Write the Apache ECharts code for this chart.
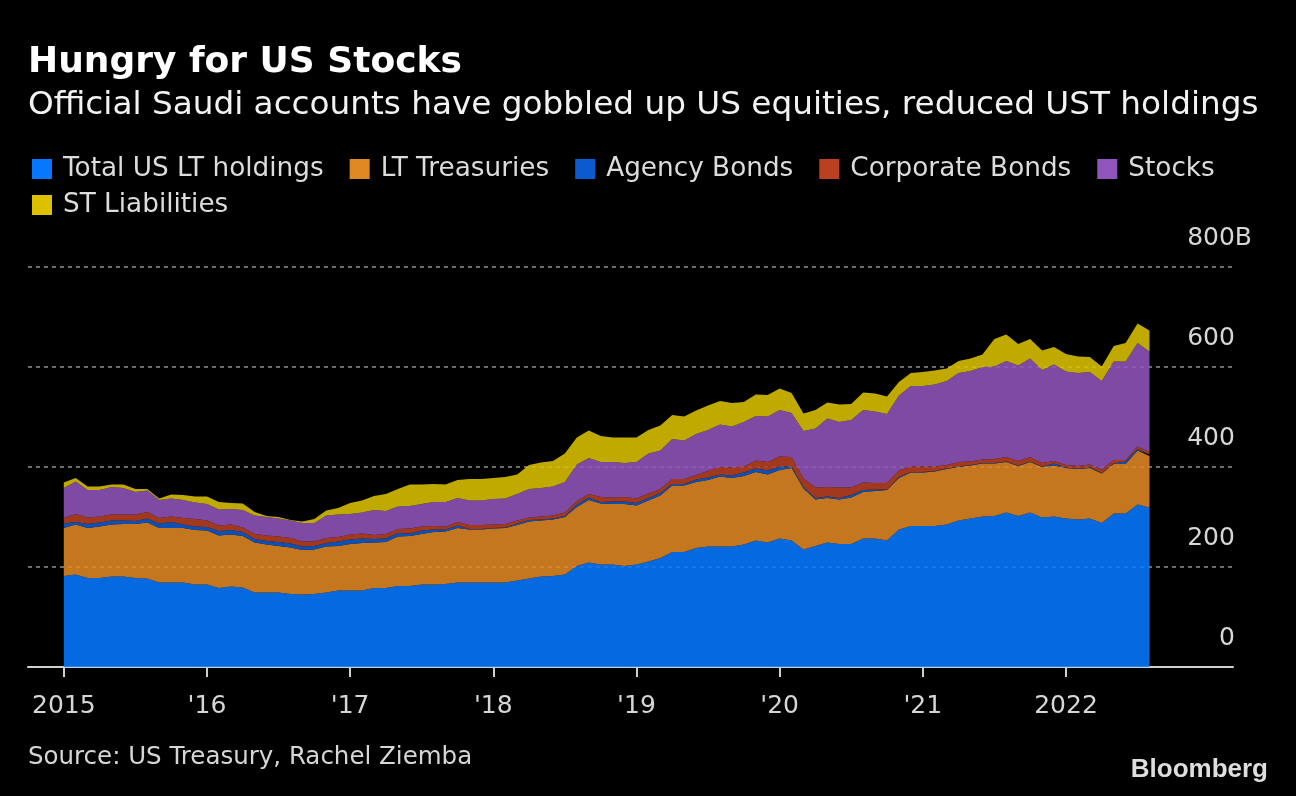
<!DOCTYPE html>
<html>
<head>
<meta charset="UTF-8">
<title>Hungry for US Stocks</title>
<script src="https://cdn.jsdelivr.net/npm/echarts@6/dist/echarts.min.js"></script>
<style>
  html, body { margin: 0; padding: 0; background: #000; }
  #main { width: 1296px; height: 796px; }
</style>
</head>
<body>
<div id="main"></div>
<script>
// monthly, Jan 2015 .. Aug 2022 (billions USD)
var totalLT = [182,185,178,178,181,181,178,177,169,169,169,165,
  165,158,161,159,149,149,149,146,145,146,149,153,
  153,153,158,158,162,162,165,165,166,169,169,169,
  169,169,173,177,181,182,185,202,209,205,205,202,
  205,211,218,230,230,238,241,241,241,245,253,249,
  257,253,235,242,249,246,246,257,257,253,275,282,
  282,282,285,293,297,301,302,309,302,309,299,301,
  297,295,297,288,307,307,325,319];
var ltTreasuries = [96,100,100,103,104,105,108,112,109,109,109,109,
  108,105,104,103,100,96,93,93,89,89,92,89,
  93,95,91,92,99,100,101,105,105,109,106,106,
  108,109,111,114,112,113,115,118,125,122,121,124,
  118,122,125,133,133,132,133,140,137,137,137,136,
  137,145,122,93,89,89,93,93,95,101,103,107,
  107,109,111,107,106,106,105,101,100,101,101,102,
  101,101,101,99,99,99,108,103];
var agencyBonds = [9,5,8,8,8,7,6,8,9,12,7,7,
  7,9,9,8,7,7,8,8,7,7,7,9,
  9,9,7,7,7,5,7,5,4,5,1,1,
  1,1,3,3,2,2,2,5,5,3,5,5,
  5,5,5,3,3,5,5,4,5,7,7,8,
  7,3,3,3,3,3,5,4,3,1,2,1,
  1,1,1,1,1,1,1,1,1,1,1,4,
  1,1,2,1,1,5,3,3];
var corporateBonds = [11,16,13,12,12,12,13,13,11,11,13,15,
  13,11,11,9,10,11,11,11,10,9,10,9,
  10,10,8,9,8,10,8,7,6,7,8,8,
  7,7,6,5,6,6,7,7,7,10,8,9,
  9,9,8,10,10,9,13,15,16,12,16,17,
  20,19,17,21,19,21,15,15,13,13,13,11,
  11,9,7,9,7,7,8,9,9,9,7,5,
  5,5,5,7,7,3,5,5];
var stocks = [60,65,55,53,55,53,45,43,36,36,36,33,
  33,32,31,35,37,37,36,35,37,37,45,45,
  41,42,50,46,45,45,45,48,49,48,49,49,
  51,51,53,57,57,58,61,73,72,70,71,68,
  73,80,77,80,77,82,82,85,82,89,89,91,
  93,88,95,118,137,131,135,145,143,138,150,161,
  161,164,168,178,181,185,185,192,191,197,186,193,
  187,186,185,177,197,197,207,201];
var stLiabilities = [11,7,7,7,5,7,6,3,3,8,10,12,
  15,15,12,13,7,2,3,1,3,8,10,13,
  22,24,28,34,35,43,39,36,35,36,43,43,
  42,43,39,48,51,51,57,54,55,52,49,51,
  49,47,50,48,48,47,49,47,47,40,43,43,
  43,40,35,37,32,35,32,35,36,35,27,26,
  28,28,25,24,25,25,55,53,43,39,39,35,
  35,33,30,29,31,37,39,42];

var seriesNames = ['Total US LT holdings', 'LT Treasuries', 'Agency Bonds', 'Corporate Bonds', 'Stocks', 'ST Liabilities'];
var seriesData = [totalLT, ltTreasuries, agencyBonds, corporateBonds, stocks, stLiabilities];
var seriesColors = ['#0677ff', '#df8823', '#0b5bd0', '#b94120', '#9154ba', '#dcc100'];

// x axis runs from Oct 2014 to Mar 2023, the data Jan 2015 .. Aug 2022
var padBefore = 3, padAfter = 7;
var yearLabels = {'2015': '2015', '2016': "'16", '2017': "'17", '2018': "'18",
  '2019': "'19", '2020': "'20", '2021': "'21", '2022': '2022'};

var months = [];
for (var k = -padBefore; k < totalLT.length + padAfter; k++) {
  var yy = 2015 + Math.floor(k / 12), mm = ((k % 12) + 12) % 12 + 1;
  months.push(yy + '-' + (mm < 10 ? '0' + mm : mm));
}
function isYearStart(idx) {
  var m = months[idx];
  return m.slice(5) === '01' && yearLabels[m.slice(0, 4)] !== undefined;
}
function padded(arr) {
  var out = [];
  for (var i = 0; i < padBefore; i++) out.push(null);
  out = out.concat(arr);
  for (var j = 0; j < padAfter; j++) out.push(null);
  return out;
}

var FONT = '"DejaVu Sans", sans-serif';

var myChart = echarts.init(document.getElementById('main'), null, {renderer: 'canvas'});

var series = seriesNames.map(function (name, k) {
  return {
    name: name,
    type: 'line',
    stack: 'total',
    symbol: 'none',
    showSymbol: false,
    connectNulls: false,
    color: seriesColors[k],
    itemStyle: {color: seriesColors[k]},
    lineStyle: {width: 0},
    areaStyle: {opacity: 0.88},
    emphasis: {disabled: true},
    data: padded(seriesData[k])
  };
});

var legendText = {color: '#dcdcdc', fontSize: 26.3, fontFamily: FONT, padding: [0, 0, 0, 6]};

var option = {
  backgroundColor: '#000',
  animation: false,
  grid: {left: 28, right: 63, top: 267, bottom: 129, containLabel: false},
  legend: [{
    data: seriesNames.slice(0, 5),
    left: 32, top: 156, padding: 0,
    icon: 'rect', itemWidth: 20, itemHeight: 20, itemGap: 26,
    selectedMode: false,
    textStyle: legendText
  }, {
    data: seriesNames.slice(5),
    left: 32, top: 192, padding: 0,
    icon: 'rect', itemWidth: 20, itemHeight: 20, itemGap: 26,
    selectedMode: false,
    textStyle: legendText
  }],
  xAxis: {
    type: 'category',
    boundaryGap: false,
    data: months,
    splitLine: {show: false},
    axisLine: {show: true, lineStyle: {color: '#d0d0d0', width: 2}},
    axisTick: {show: true, length: 10, interval: function (idx) { return isYearStart(idx); },
      lineStyle: {color: '#d0d0d0', width: 2}},
    axisLabel: {
      interval: function (idx) { return isYearStart(idx); },
      margin: 27,
      color: '#d6d6d6', fontSize: 25, fontFamily: FONT,
      formatter: function (v) { return yearLabels[v.slice(0, 4)]; }
    }
  },
  yAxis: {
    type: 'value',
    position: 'right',
    min: 0, max: 800, interval: 200,
    axisLine: {show: false},
    axisTick: {show: false},
    splitLine: {show: true, lineStyle: {color: '#6c6c6c', width: 2, type: [4, 4]}},
    axisLabel: {
      margin: 19,
      align: 'right',
      verticalAlign: 'bottom',
      padding: [0, 0, 16, 0],
      color: '#d6d6d6', fontSize: 25, fontFamily: FONT,
      formatter: function (v) { return v === 800 ? '800B' : v + '{h|B}'; },
      rich: {h: {color: 'rgba(0,0,0,0)', fontSize: 25, fontFamily: FONT}}
    }
  },
  graphic: [
    {type: 'text', left: 28, top: 45, style: {text: 'Hungry for US Stocks', fill: '#ffffff', font: 'bold 36px ' + FONT}},
    {type: 'text', left: 28, top: 89, style: {text: 'Official Saudi accounts have gobbled up US equities, reduced UST holdings', fill: '#f2f2f2', font: '32.7px ' + FONT}},
    {type: 'text', left: 28, top: 745, style: {text: 'Source: US Treasury, Rachel Ziemba', fill: '#d6d6d6', font: '24.5px ' + FONT}},
    {type: 'text', right: 28, top: 757, style: {text: 'Bloomberg', fill: '#dedede', font: 'bold 26px "Liberation Sans", Arial, sans-serif'}}
  ],
  series: series
};

myChart.setOption(option);
</script>
</body>
</html>
